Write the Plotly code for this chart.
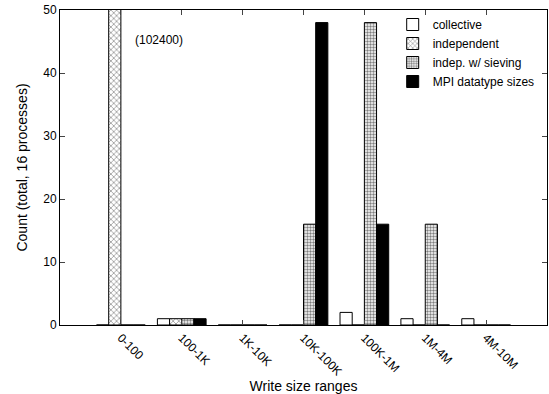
import plotly.graph_objects as go

categories = ["0-100", "100-1K", "1K-10K", "10K-100K", "100K-1M", "1M-4M", "4M-10M"]
collective = [0, 1, 0, 0, 2, 1, 1]
independent = [102400, 1, 0, 0, 0, 0, 0]
sieving = [0, 1, 0, 16, 48, 16, 0]
mpi_sizes = [0, 1, 0, 48, 16, 0, 0]

FONT = "Liberation Sans, Arial, sans-serif"
xpos = list(range(len(categories)))

fig = go.Figure()
fig.add_trace(go.Bar(x=xpos, y=collective, name="collective",
                     marker=dict(color="white", line=dict(color="black", width=1))))
fig.add_trace(go.Bar(x=xpos, y=independent, name="independent",
                     marker=dict(color="white", line=dict(color="black", width=1),
                                 pattern=dict(shape="x", fgcolor="black", bgcolor="white",
                                              size=4, solidity=0.3))))
fig.add_trace(go.Bar(x=xpos, y=sieving, name="indep. w/ sieving",
                     marker=dict(color="white", line=dict(color="black", width=1),
                                 pattern=dict(shape=".", fgcolor="black", bgcolor="white",
                                              size=3, solidity=0.5))))
fig.add_trace(go.Bar(x=xpos, y=mpi_sizes, name="MPI datatype sizes",
                     marker=dict(color="black", line=dict(color="black", width=1))))

fig.update_layout(
    width=549, height=394,
    margin=dict(l=60, r=2, t=10, b=69, autoexpand=False),
    paper_bgcolor="white", plot_bgcolor="white",
    barmode="group", bargap=0.2, bargroupgap=0,
    font=dict(family=FONT, size=12, color="black"),
    showlegend=True,
    legend=dict(x=0.985, y=1.0, xanchor="right", yanchor="top",
                bgcolor="rgba(0,0,0,0)", font=dict(size=12),
                tracegroupgap=0, itemwidth=30),
    annotations=[dict(text="(102400)", xref="paper", yref="paper",
                      x=0.15, y=0.905, xanchor="left", yanchor="middle",
                      showarrow=False, font=dict(size=12))],
)
fig.update_xaxes(
    tickmode="array", tickvals=xpos, ticktext=categories,
    range=[-1, 7], tickangle=45, ticks="inside", ticklen=5,
    showline=True, linecolor="black", linewidth=1, mirror="ticks",
    showgrid=False, zeroline=False, automargin=False,
    title=dict(text="Write size ranges", standoff=8),
)
fig.update_yaxes(
    range=[0, 50], tickvals=[0, 10, 20, 30, 40, 50], ticks="inside", ticklen=5,
    showline=True, linecolor="black", linewidth=1, mirror="ticks",
    showgrid=False, zeroline=False, automargin=False,
    title=dict(text="Count (total, 16 processes)", standoff=12),
)

fig.write_html("out.html", config={"displayModeBar": False},
               post_script="document.body.style.margin='0px';")
